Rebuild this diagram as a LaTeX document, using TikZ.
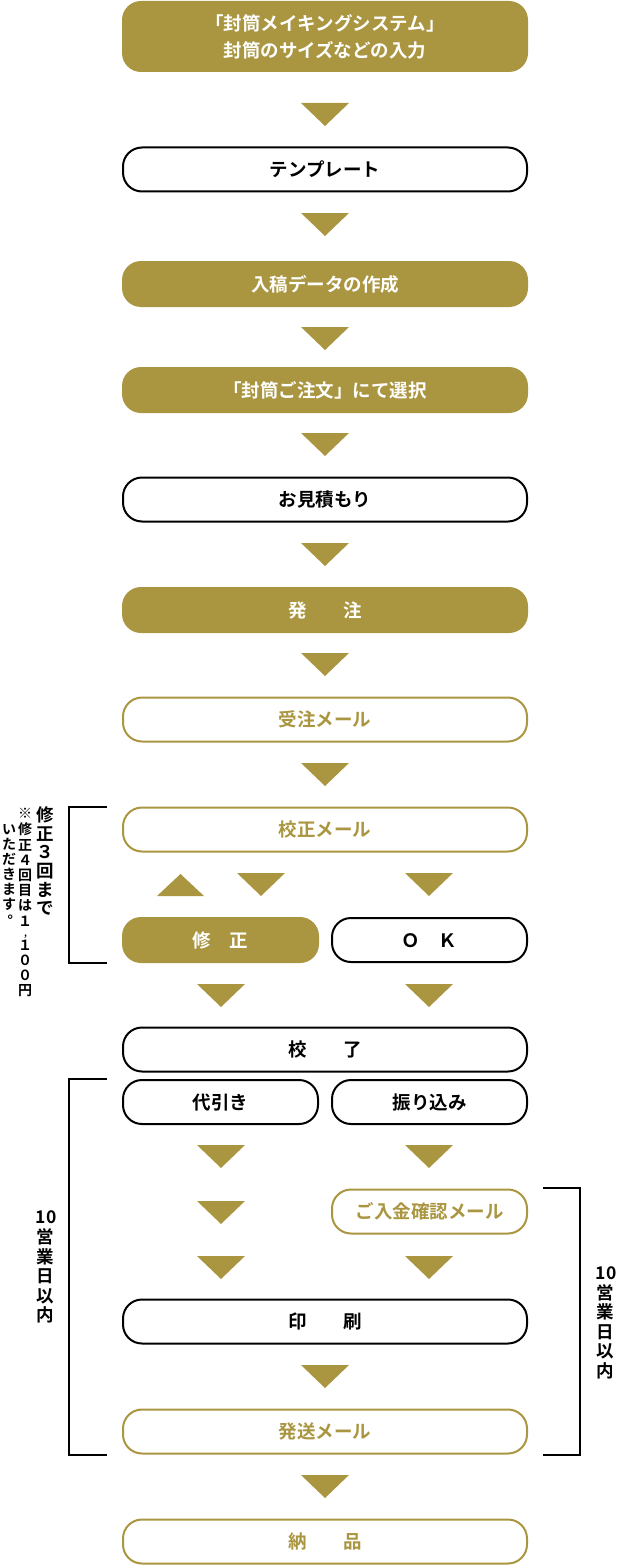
\documentclass[tikz,border=0pt]{standalone}
\usepackage{fontspec}
\newfontfamily\jp{Noto Sans CJK JP}[BoldFont={Noto Sans CJK JP Bold}]
\newfontfamily\jpv{Noto Sans CJK JP Bold}[RawFeature=+vert]
\definecolor{gold}{RGB}{170,150,64}
\begin{document}
\begin{tikzpicture}[x=1pt,y=-1pt,
  every node/.style={inner sep=0pt, outer sep=0pt},
  txt/.style={font=\jp\bfseries\fontsize{18.5}{22}\selectfont, text height=14.06pt, text depth=0pt},
  box/.style={txt, rectangle, rounded corners=19pt, minimum height=44pt},
  fillbox/.style={box, fill=gold, text=white, minimum width=406pt, minimum height=46pt},
  fillhalf/.style={box, fill=gold, text=white, minimum width=197pt, minimum height=46pt},
  blackbox/.style={box, draw=black, line width=2pt, fill=white, text=black, minimum width=404pt},
  blackhalf/.style={box, draw=black, line width=2pt, fill=white, text=black, minimum width=195pt},
  goldbox/.style={box, draw=gold, line width=2pt, fill=white, text=gold, minimum width=404pt},
  goldhalf/.style={box, draw=gold, line width=2pt, fill=white, text=gold, minimum width=195pt},
  vA/.style={font=\jp\bfseries\fontsize{17.5}{17.5}\selectfont, text height=13.3pt, text depth=0pt},
  vB/.style={font=\jp\bfseries\fontsize{14}{14}\selectfont, text height=10.64pt, text depth=0pt},
  vV/.style={font=\jpv\fontsize{14}{14}\selectfont, text height=10.64pt, text depth=0pt},
  bracket/.style={draw=black, line width=1.8pt}
]
\useasboundingbox (0,0) rectangle (618,1565);
\newcommand\dtri[2]{\fill[gold] ({#1-24},#2) -- ({#1+24},#2) -- (#1,{#2+23}) -- cycle;}

% boxes
\node[fillbox, minimum height=71pt] (b1) at (325,36.5) {};
\node[txt, text=white] (b1a) at (325,23) {「封筒メイキングシステム」};
\node[txt, text=white] (b1b) at (325,50) {封筒のサイズなどの入力};
\node[blackbox] (b2) at (325,169.5) {テンプレート};
\node[fillbox] (b3) at (325,284) {入稿データの作成};
\node[fillbox] (b4) at (325,390) {「封筒ご注文」にて選択};
\node[blackbox] (b5) at (325,499.5) {お見積もり};
\node[fillbox] (b6) at (325,610) {発　　注};
\node[goldbox] (b7) at (325,719.5) {受注メール};
\node[goldbox] (b8) at (325,829.5) {校正メール};
\node[fillhalf] (b9l) at (220.5,940) {修　正};
\node[blackhalf] (b9r) at (429.5,940) {Ｏ　Ｋ};
\node[blackbox] (b10) at (325,1049.5) {校　　了};
\node[blackhalf] (b11l) at (220.5,1102) {代引き};
\node[blackhalf] (b11r) at (429.5,1102) {振り込み};
\node[goldhalf] (b12) at (429.5,1211.5) {ご入金確認メール};
\node[blackbox] (b13) at (325,1321.5) {印　　刷};
\node[goldbox] (b14) at (325,1431.5) {発送メール};
\node[goldbox] (b15) at (325,1541.5) {納　　品};

% triangles
\dtri{325}{103}
\dtri{325}{213}
\dtri{325}{327}
\dtri{325}{433}
\dtri{325}{543}
\dtri{325}{653}
\dtri{325}{763}
\fill[gold] (157,896) -- (204,896) -- (180.5,874) -- cycle;
\dtri{261}{873}
\dtri{429}{873}
\dtri{221}{984}
\dtri{429}{984}
\dtri{221}{1145}
\dtri{429}{1145}
\dtri{221}{1201}
\dtri{221}{1256}
\dtri{429}{1256}
\dtri{325}{1365}
\dtri{325}{1475}

% brackets
\draw[bracket] (107,807) -- (69,807) -- (69,963) -- (107,963);
\draw[bracket] (107,1079) -- (69,1079) -- (69,1455) -- (107,1455);
\draw[bracket] (543,1188) -- (580,1188) -- (580,1455) -- (543,1455);

% vertical texts
\foreach \c [count=\i from 0] in {修,正,３,回,ま,で}
  \node[vA] (sA\i) at (45,{815+\i*18.6}) {\c};
\foreach \c/\yy [count=\i] in {※/813.5,修/829.5,正/845,４/860,回/875,目/890,は/905.5,１/921,１/945,０/960,０/975,円/990}
  \node[vB] (sB\i) at (25,\yy) {\c};
\node[font=\jp\bfseries\fontsize{9}{9}\selectfont, anchor=base] (comma) at (25.5,936) {,};
\foreach \c [count=\i from 0] in {い,た,だ,き,ま,す}
  \node[vB] (sC\i) at (9,{829.5+\i*15}) {\c};
\node[vV] (maru) at (6,921) {。};

\node[vA] (dL) at (46,1217) {10};
\foreach \c [count=\i from 0] in {営,業,日,以,内}
  \node[vA] (eL\i) at (45,{1237+\i*19.5}) {\c};
\node[vA] (dR) at (606,1272.5) {10};
\foreach \c [count=\i from 0] in {営,業,日,以,内}
  \node[vA] (eR\i) at (605,{1292.5+\i*19.5}) {\c};
\end{tikzpicture}
\end{document}
